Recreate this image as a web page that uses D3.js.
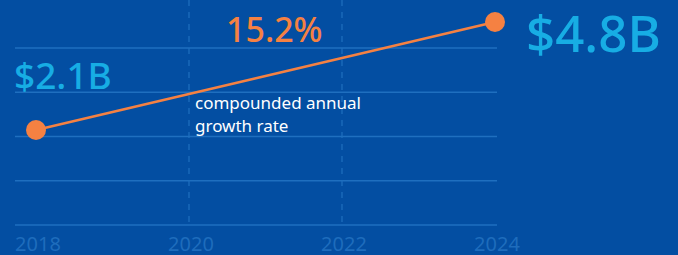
<!DOCTYPE html>
<html lang="en">
<head>
<meta charset="UTF-8">
<title>Growth</title>
<script src="https://d3js.org/d3.v7.min.js"></script>
<style>
  html, body { margin: 0; padding: 0; background: #034ea2; }
  svg { display: block; font-family: "Noto Sans", sans-serif; }
</style>
</head>
<body>
<div id="chart"></div>
<script>
// data
var years = [2018, 2024];
var values = [2.1, 4.8];
var valueLabels = ["$2.1B", "$4.8B"];
var tickYears = [2018, 2020, 2022, 2024];
var gridRows = [0, 1, 2, 3, 4];
var cagrLabel = "15.2%";
var noteLines = ["compounded annual", "growth rate"];

var width = 678, height = 255;

var svg = d3.select("#chart").append("svg")
    .attr("width", width)
    .attr("height", height);

svg.append("rect")
    .attr("width", width).attr("height", height)
    .attr("fill", "#034ea2");

// scales
var x = d3.scaleLinear().domain([2018, 2024]).range([36, 495]);
var y = d3.scaleLinear().domain([2.1, 4.8]).range([130, 22]);
var gy = d3.scaleLinear().domain([0, 4]).range([225, 48]);

// horizontal grid
svg.append("g")
  .selectAll("line")
  .data(gridRows)
  .enter().append("line")
    .attr("x1", 15).attr("x2", 497)
    .attr("y1", function(d) { return gy(d); })
    .attr("y2", function(d) { return gy(d); })
    .attr("stroke", "#1f6fbf")
    .attr("stroke-width", 1.5);

// dashed verticals at 2020, 2022
svg.append("g")
  .selectAll("line")
  .data(tickYears.slice(1, 3))
  .enter().append("line")
    .attr("x1", function(d) { return x(d); })
    .attr("x2", function(d) { return x(d); })
    .attr("y1", 0).attr("y2", 225)
    .attr("stroke", "#1f6fbf")
    .attr("stroke-width", 1.2)
    .attr("stroke-dasharray", "6,6");

// x axis labels
svg.append("g")
  .selectAll("text")
  .data(tickYears)
  .enter().append("text")
    .attr("x", function(d) { return x(d) + 2; })
    .attr("y", 251)
    .attr("text-anchor", "middle")
    .attr("font-size", 20)
    .attr("fill", "#1e6cbc")
    .text(function(d) { return d; });

// line
var pts = years.map(function(d, i) { return [d, values[i]]; });
svg.append("path")
    .datum(pts)
    .attr("fill", "none")
    .attr("stroke", "#f58142")
    .attr("stroke-width", 2.5)
    .attr("d", d3.line()
      .x(function(d) { return x(d[0]); })
      .y(function(d) { return y(d[1]); }));

svg.append("g")
  .selectAll("circle")
  .data(pts)
  .enter().append("circle")
    .attr("cx", function(d) { return x(d[0]); })
    .attr("cy", function(d) { return y(d[1]); })
    .attr("r", 10)
    .attr("fill", "#f58142");

// value labels
svg.append("text")
    .attr("x", 14).attr("y", 89)
    .attr("font-size", 37)
    .attr("font-weight", 500)
    .attr("fill", "#17ade4")
    .text(valueLabels[0]);

svg.append("text")
    .attr("x", 526).attr("y", 52)
    .attr("font-size", 51)
    .attr("font-weight", 500)
    .attr("fill", "#17ade4")
    .text(valueLabels[1]);

// CAGR
svg.append("text")
    .attr("x", 226).attr("y", 42)
    .attr("font-size", 34)
    .attr("font-weight", 500)
    .attr("fill", "#f58142")
    .text(cagrLabel);

svg.append("g")
  .selectAll("text")
  .data(noteLines)
  .enter().append("text")
    .attr("x", 195)
    .attr("y", function(d, i) { return 109 + i * 23; })
    .attr("font-size", 17)
    .attr("fill", "#ffffff")
    .text(function(d) { return d; });
</script>
</body>
</html>
